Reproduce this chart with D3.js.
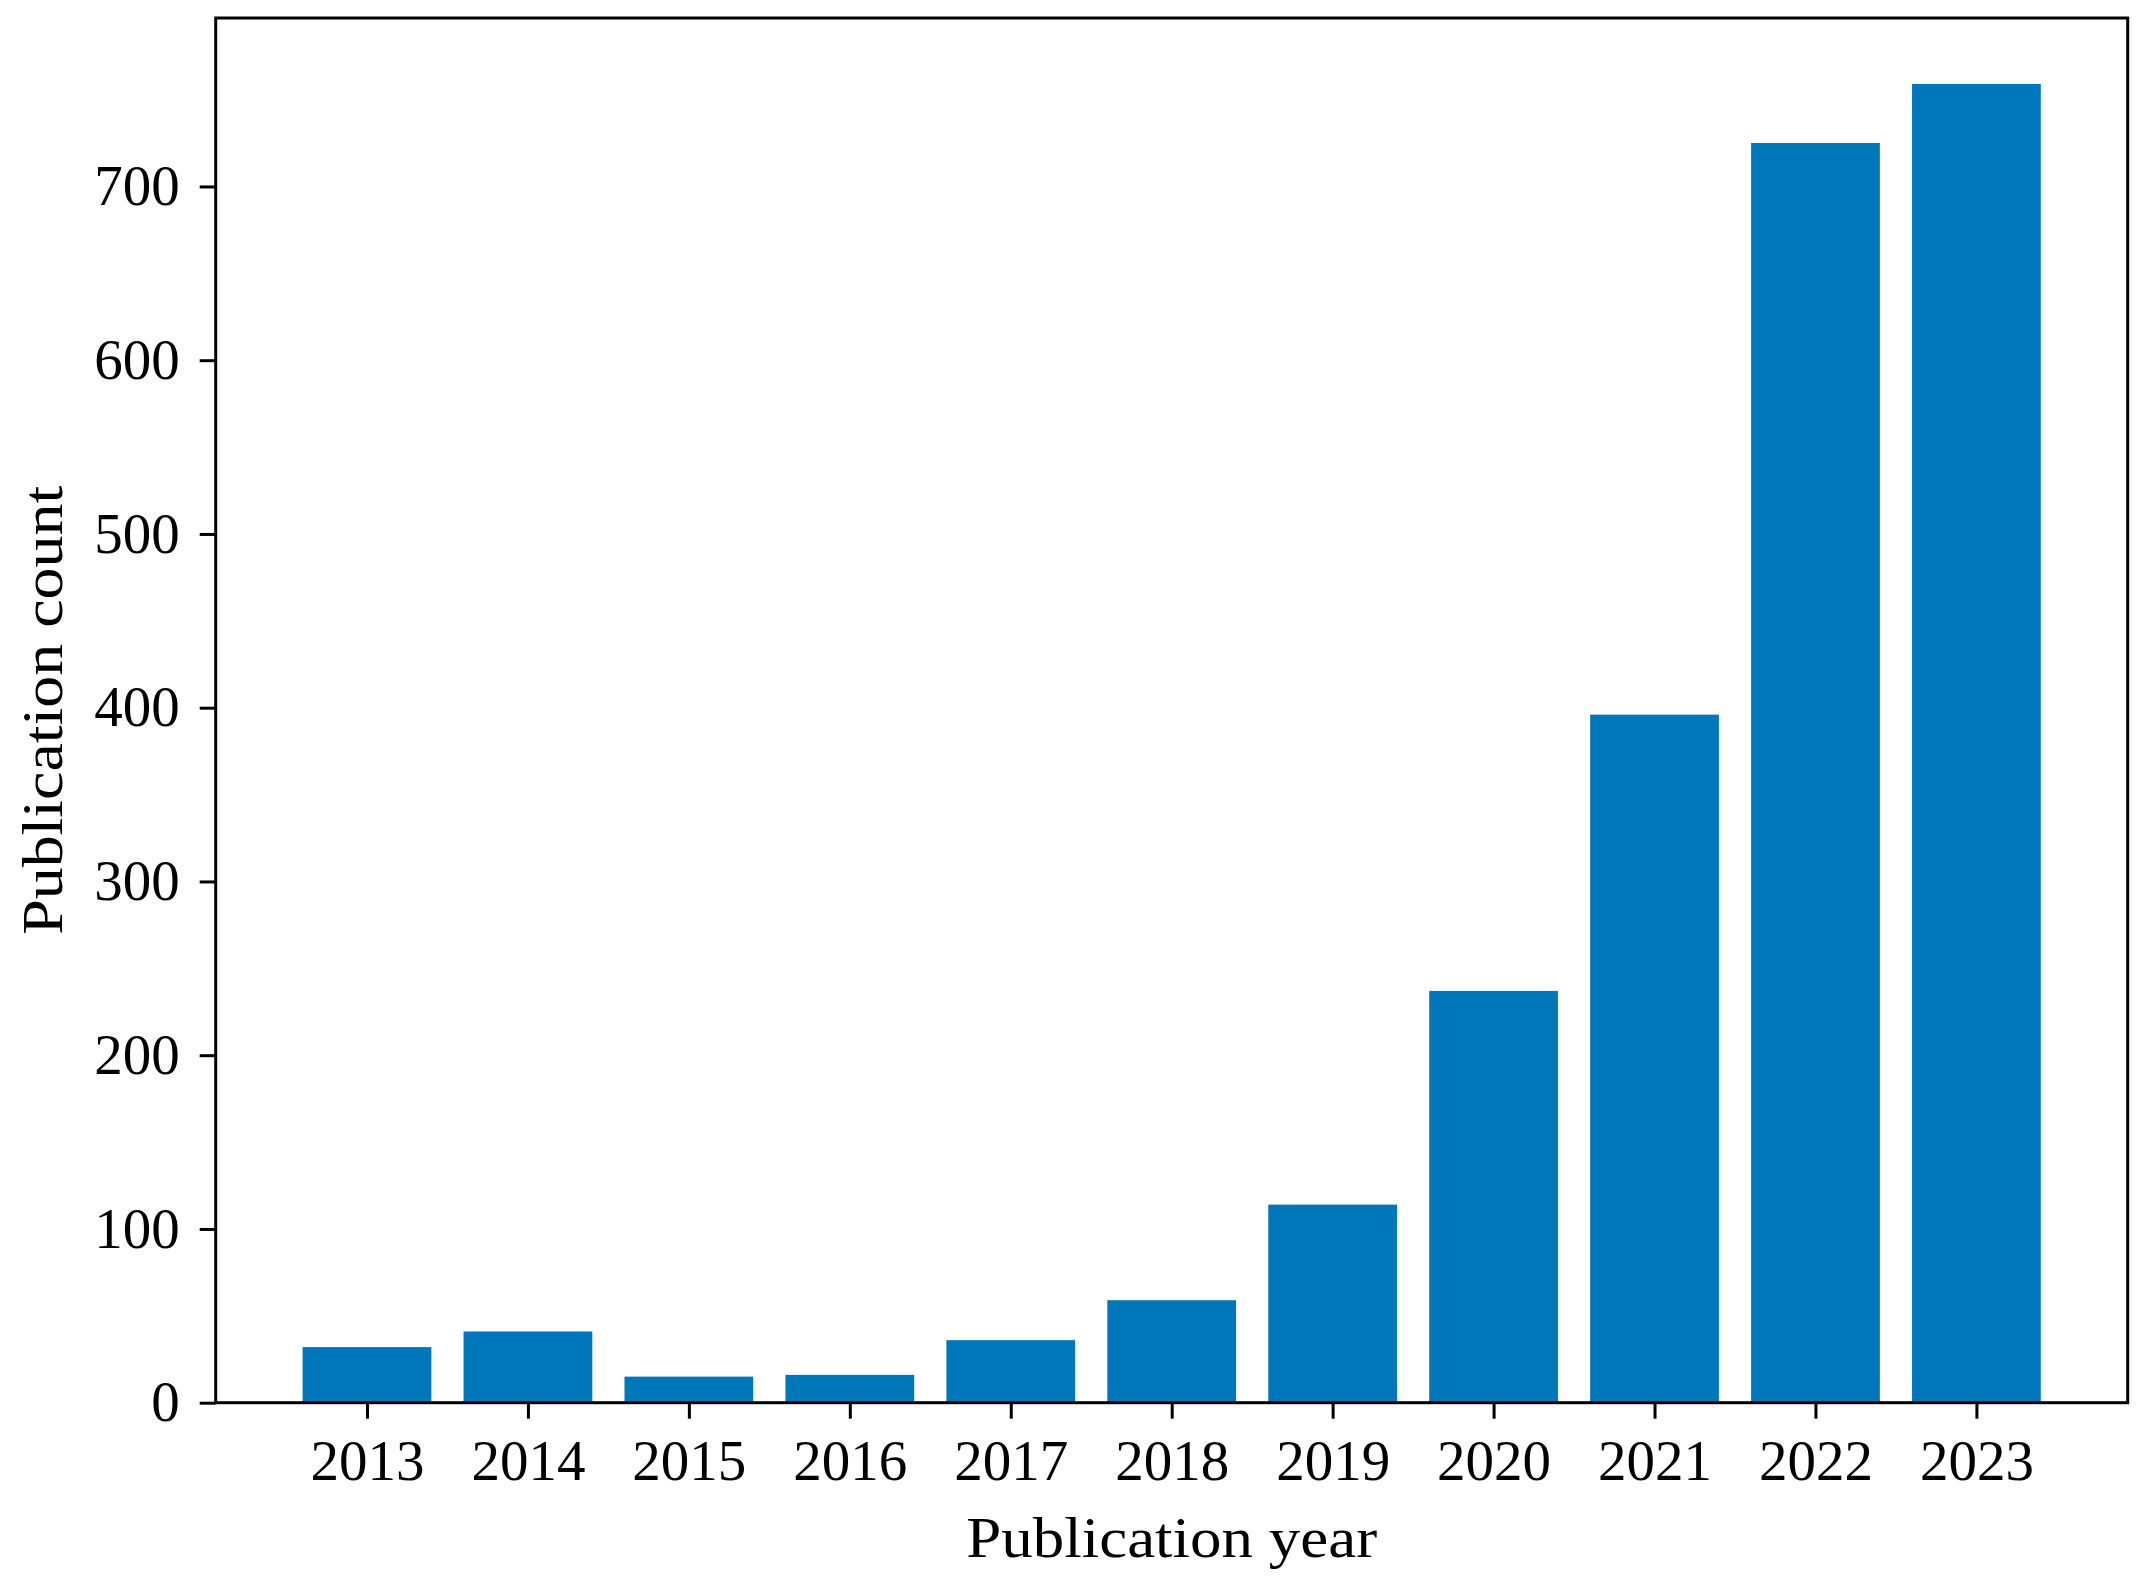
<!DOCTYPE html>
<html>
<head>
<meta charset="utf-8">
<script src="https://cdn.jsdelivr.net/npm/d3@7"></script>
<style>
  html, body { margin: 0; padding: 0; background: #fff; }
  svg { display: block; }
  text { font-family: "Liberation Serif", "DejaVu Serif", serif; fill: #000; }
</style>
</head>
<body>
<svg id="chart" width="2148" height="1583"></svg>
<script>
const years = [2013, 2014, 2015, 2016, 2017, 2018, 2019, 2020, 2021, 2022, 2023];
const counts = [32, 41, 15, 16, 36, 59, 114, 237, 396, 725, 759];
const yTicks = [0, 100, 200, 300, 400, 500, 600, 700];
const xLabel = "Publication year";
const yLabel = "Publication count";

const W = 2148, H = 1583;
const margin = { left: 215.7, right: W - 2127.7, top: 18, bottom: H - 1402.7 };
const barWidth = 0.8;
const color = "#0077bb";

const svg = d3.select("#chart");
const g = svg.append("g").attr("transform", `translate(${margin.left},${margin.top})`);
const iw = W - margin.left - margin.right;
const ih = H - margin.top - margin.bottom;

// matplotlib-like 5% margins
const x0 = d3.min(years) - barWidth / 2, x1 = d3.max(years) + barWidth / 2;
const xm = (x1 - x0) * 0.05;
const x = d3.scaleLinear().domain([x0 - xm, x1 + xm]).range([0, iw]);
const y = d3.scaleLinear().domain([0, d3.max(counts) * 1.05]).range([ih, 0]);

// bars
g.selectAll("rect.bar")
  .data(years.map((yr, i) => ({ yr, v: counts[i] })))
  .join("rect")
  .attr("class", "bar")
  .attr("x", d => x(d.yr - barWidth / 2))
  .attr("width", d => x(d.yr + barWidth / 2) - x(d.yr - barWidth / 2))
  .attr("y", d => y(d.v))
  .attr("height", d => y(0) - y(d.v))
  .attr("fill", color);

// frame
g.append("rect")
  .attr("x", 0).attr("y", 0).attr("width", iw).attr("height", ih)
  .attr("fill", "none").attr("stroke", "#000").attr("stroke-width", 3);

// axes
const fs = 57;
const xAxis = g.append("g").attr("transform", `translate(0,${ih})`)
  .call(d3.axisBottom(x).tickValues(years).tickFormat(d3.format("d")).tickSize(16).tickPadding(21).tickSizeOuter(0));
const yAxis = g.append("g")
  .call(d3.axisLeft(y).tickValues(yTicks).tickFormat(d3.format("d")).tickSize(16).tickPadding(20).tickSizeOuter(0));

[xAxis, yAxis].forEach(a => {
  a.select(".domain").remove();
  a.selectAll(".tick line").attr("stroke", "#000").attr("stroke-width", 3);
  a.selectAll(".tick text").attr("font-size", fs).attr("font-family", "Liberation Serif, DejaVu Serif, serif").attr("fill", "#000");
});

// axis labels
svg.append("text")
  .attr("x", margin.left + iw / 2)
  .attr("y", 1557)
  .attr("text-anchor", "middle")
  .attr("font-size", fs)
  .attr("textLength", 411)
  .attr("lengthAdjust", "spacingAndGlyphs")
  .text(xLabel);

svg.append("text")
  .attr("transform", `translate(62,${margin.top + ih / 2}) rotate(-90)`)
  .attr("text-anchor", "middle")
  .attr("font-size", fs)
  .attr("textLength", 449)
  .attr("lengthAdjust", "spacingAndGlyphs")
  .text(yLabel);
</script>
</body>
</html>
